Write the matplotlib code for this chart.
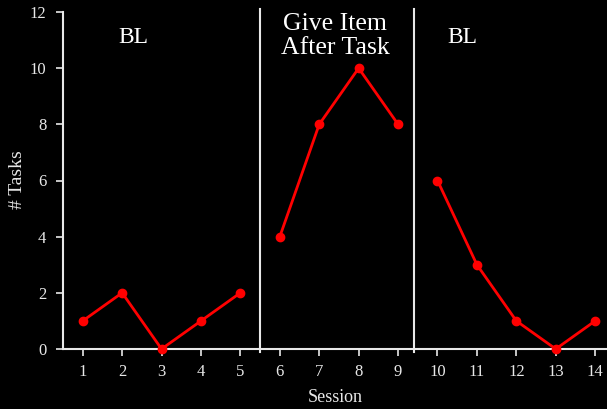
import matplotlib
matplotlib.use("Agg")
import matplotlib.pyplot as plt

sessions_bl1 = [1, 2, 3, 4, 5]
tasks_bl1 = [1, 2, 0, 1, 2]
sessions_tx = [6, 7, 8, 9]
tasks_tx = [4, 8, 10, 8]
sessions_bl2 = [10, 11, 12, 13, 14]
tasks_bl2 = [6, 3, 1, 0, 1]
phase_lines = [5.5, 9.4]
phase_labels = ["BL", "Give Item\nAfter Task", "BL"]
phase_label_x = [2.29, 7.41, 10.62]
yticks = [0, 2, 4, 6, 8, 10, 12]
xticks = list(range(1, 15))

plt.rcParams['font.family'] = ['Liberation Serif', 'DejaVu Serif']
fg = '#E8E8E8'
fig = plt.figure(figsize=(6.07, 4.09), dpi=100, facecolor='black')
ax = fig.add_axes([63/607, 1-349/409, 1-63/607, (349-12)/409])
ax.set_facecolor('black')

for xs, ys in [(sessions_bl1, tasks_bl1), (sessions_tx, tasks_tx), (sessions_bl2, tasks_bl2)]:
    ax.plot(xs, ys, color='#FF0000', lw=2.0, marker='o', ms=6, clip_on=False, zorder=3)

for xv in phase_lines:
    ax.plot([xv, xv], [-0.1, 12.1], color=fg, lw=1.5, clip_on=False, zorder=2)

ax.text(phase_label_x[0], 11.1, phase_labels[0], color='white', fontsize=17, ha='center', va='center')
ax.text(phase_label_x[1], 11.15, phase_labels[1], color='white', fontsize=18.5, ha='center', va='center', linespacing=1.1)
ax.text(phase_label_x[2], 11.1, phase_labels[2], color='white', fontsize=17, ha='center', va='center')

ax.set_xlim(0.5, 14.3)
ax.set_ylim(0, 12)
ax.set_xticks(xticks)
ax.set_yticks(yticks)
ax.tick_params(colors=fg, labelcolor=fg, labelsize=12, length=5, width=1.2, direction='out')
ax.tick_params(axis='x', pad=6)
ax.tick_params(axis='y', pad=7)
for s in ['top', 'right']:
    ax.spines[s].set_visible(False)
for s in ['left', 'bottom']:
    ax.spines[s].set_color(fg)
    ax.spines[s].set_linewidth(1.5)
ax.set_xlabel('Session', color=fg, fontsize=13, labelpad=6)
fig.text(17/607, 1-180/409, '# Tasks', color=fg, fontsize=14, rotation=90, ha='center', va='center')

fig.savefig('out.png', dpi=100, facecolor='black')
